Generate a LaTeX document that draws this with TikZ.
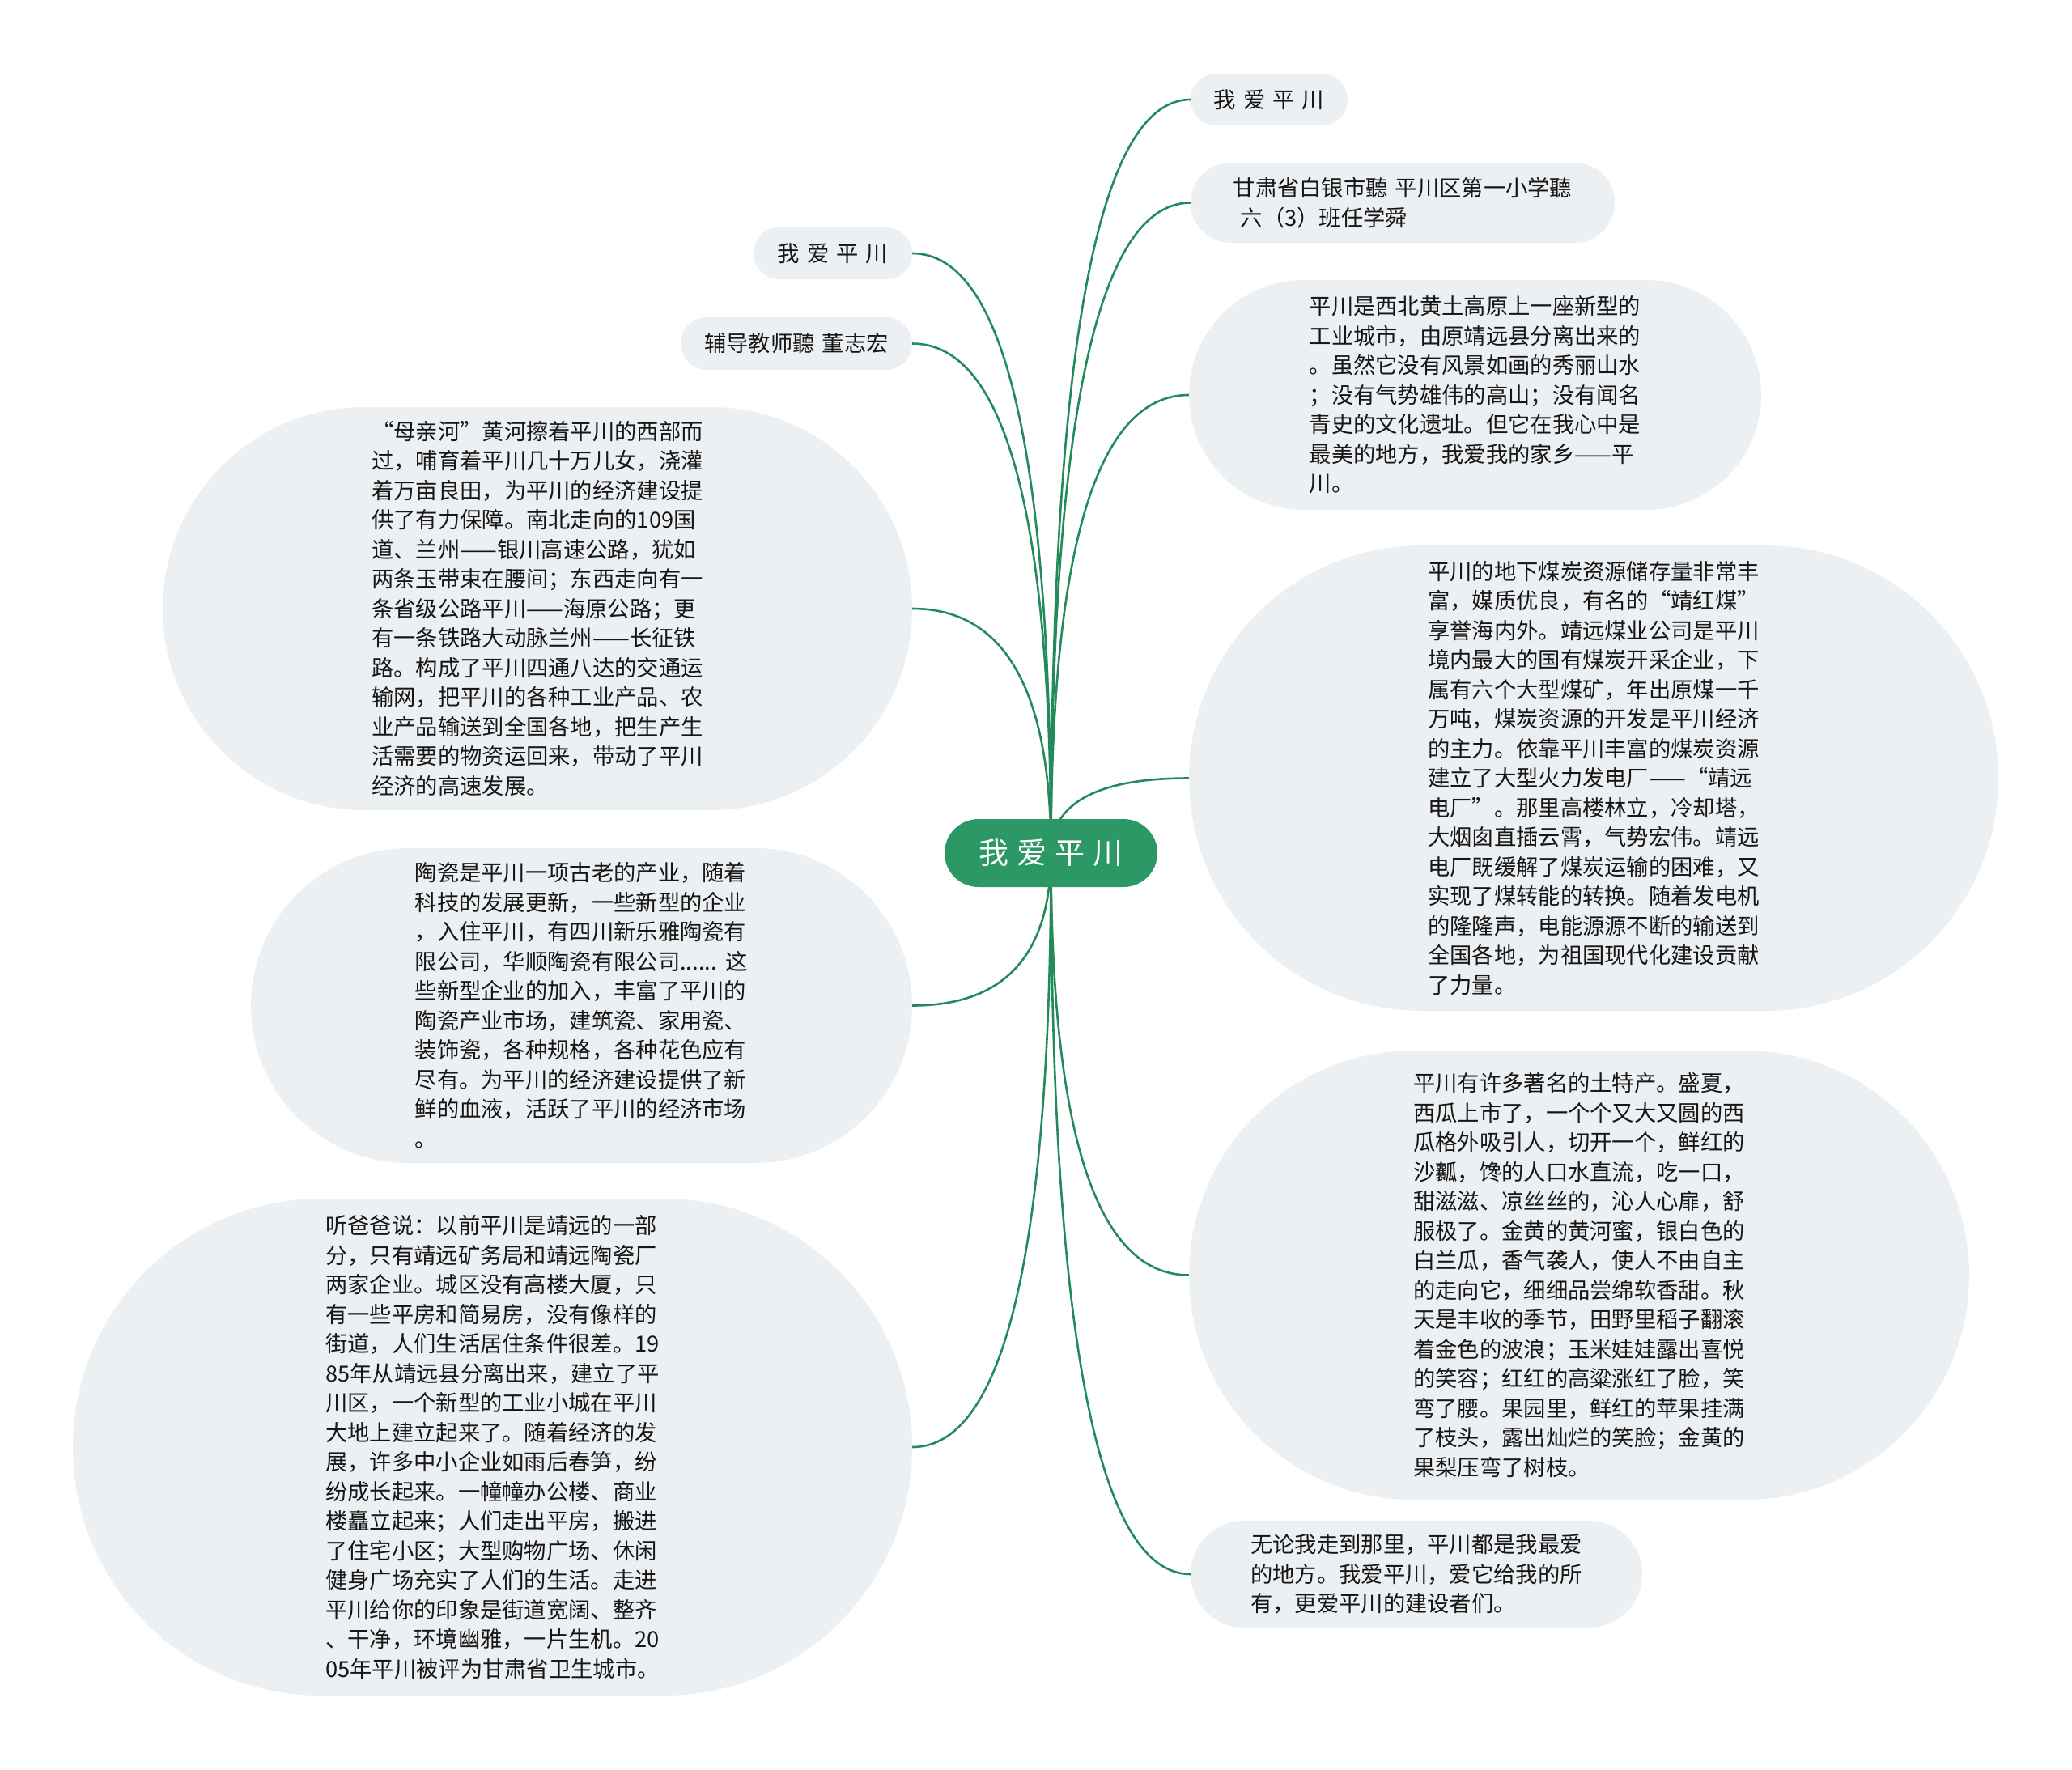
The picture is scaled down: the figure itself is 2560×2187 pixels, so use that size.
\documentclass[tikz,border=0pt]{standalone}
\usepackage{fontspec}
\setmainfont{Noto Sans CJK SC}
\usetikzlibrary{calc}
\definecolor{branch}{RGB}{35,138,90}
\definecolor{rootfill}{RGB}{44,152,101}
\definecolor{leaffill}{RGB}{237,240,243}
\definecolor{ink}{RGB}{22,22,22}
\tikzset{
  leaf/.style={fill=leaffill, text=ink, align=left, inner sep=0pt,
    font={\fontsize{27.3}{36.5}\selectfont\spaceskip=9pt\relax}},
  pill/.style 2 args={minimum width=#1pt, minimum height=#2pt, rounded corners=#2*0.5pt},
  wire/.style={draw=branch, line width=2.6pt},
}
\begin{document}
\begin{tikzpicture}[x=1pt,y=-1pt]
  \fill[white] (0,0) rectangle (2560,2187);
  \coordinate (hub) at (1298.5,1054);
  % right side
  \node[leaf, pill={194}{64}] (r1) at (1568,123) {我 爱 平 川};
  \node[leaf, pill={524}{99}] (r2) at (1733,250.5)
    {甘肃省白银市聽 平川区第一小学聽\\\ 六（3）班任学舜};
  \node[leaf, pill={707}{284}] (r3) at (1822.5,488)
    {平川是西北黄土高原上一座新型的\\工业城市，由原靖远县分离出来的\\。虽然它没有风景如画的秀丽山水\\；没有气势雄伟的高山；没有闻名\\青史的文化遗址。但它在我心中是\\最美的地方，我爱我的家乡——平\\川。};
  \node[leaf, pill={1000}{575}] (r4) at (1969,961.5)
    {平川的地下煤炭资源储存量非常丰\\富，媒质优良，有名的“靖红煤”\\享誉海内外。靖远煤业公司是平川\\境内最大的国有煤炭开采企业，下\\属有六个大型煤矿，年出原煤一千\\万吨，煤炭资源的开发是平川经济\\的主力。依靠平川丰富的煤炭资源\\建立了大型火力发电厂——“靖远\\电厂”。那里高楼林立，冷却塔，\\大烟囱直插云霄，气势宏伟。靖远\\电厂既缓解了煤炭运输的困难，又\\实现了煤转能的转换。随着发电机\\的隆隆声，电能源源不断的输送到\\全国各地，为祖国现代化建设贡献\\了力量。};
  \node[leaf, pill={964}{555}] (r5) at (1951,1575.5)
    {平川有许多著名的土特产。盛夏，\\西瓜上市了，一个个又大又圆的西\\瓜格外吸引人，切开一个，鲜红的\\沙瓤，馋的人口水直流，吃一口，\\甜滋滋、凉丝丝的，沁人心扉，舒\\服极了。金黄的黄河蜜，银白色的\\白兰瓜，香气袭人，使人不由自主\\的走向它，细细品尝绵软香甜。秋\\天是丰收的季节，田野里稻子翻滚\\着金色的波浪；玉米娃娃露出喜悦\\的笑容；红红的高粱涨红了脸，笑\\弯了腰。果园里，鲜红的苹果挂满\\了枝头，露出灿烂的笑脸；金黄的\\果梨压弯了树枝。};
  \node[leaf, pill={558}{132}] (r6) at (1750,1945)
    {无论我走到那里，平川都是我最爱\\的地方。我爱平川，爱它给我的所\\有，更爱平川的建设者们。};
  % left side
  \node[leaf, pill={196}{64}] (l1) at (1029,313) {我 爱 平 川};
  \node[leaf, pill={286}{65}] (l2) at (984,424.5) {辅导教师聽 董志宏};
  \node[leaf, pill={926}{498}] (l3) at (664,752)
    {“母亲河”黄河擦着平川的西部而\\过，哺育着平川几十万儿女，浇灌\\着万亩良田，为平川的经济建设提\\供了有力保障。南北走向的109国\\道、兰州——银川高速公路，犹如\\两条玉带束在腰间；东西走向有一\\条省级公路平川——海原公路；更\\有一条铁路大动脉兰州——长征铁\\路。构成了平川四通八达的交通运\\输网，把平川的各种工业产品、农\\业产品输送到全国各地，把生产生\\活需要的物资运回来，带动了平川\\经济的高速发展。};
  \node[leaf, pill={817}{389}] (l4) at (718.5,1242.5)
    {陶瓷是平川一项古老的产业，随着\\科技的发展更新，一些新型的企业\\，入住平川，有四川新乐雅陶瓷有\\限公司，华顺陶瓷有限公司...... 这\\些新型企业的加入，丰富了平川的\\陶瓷产业市场，建筑瓷、家用瓷、\\装饰瓷，各种规格，各种花色应有\\尽有。为平川的经济建设提供了新\\鲜的血液，活跃了平川的经济市场\\。};
  \node[leaf, pill={1037}{614}] (l5) at (608.5,1788)
    {听爸爸说：以前平川是靖远的一部\\分，只有靖远矿务局和靖远陶瓷厂\\两家企业。城区没有高楼大厦，只\\有一些平房和简易房，没有像样的\\街道，人们生活居住条件很差。19\\85年从靖远县分离出来，建立了平\\川区，一个新型的工业小城在平川\\大地上建立起来了。随着经济的发\\展，许多中小企业如雨后春笋，纷\\纷成长起来。一幢幢办公楼、商业\\楼矗立起来；人们走出平房，搬进\\了住宅小区；大型购物广场、休闲\\健身广场充实了人们的生活。走进\\平川给你的印象是街道宽阔、整齐\\、干净，环境幽雅，一片生机。20\\05年平川被评为甘肃省卫生城市。};
  % branches
  \foreach \n/\a in {r1/west, r2/west, r3/west, r4/west, r5/west, r6/west,
                     l1/east, l2/east, l3/east, l4/east, l5/east}
    \draw[wire] (hub) .. controls ($(hub)!2/3!(hub |- \n.\a)$)
      and ($(\n.\a)!2/3!(hub |- \n.\a)$) .. (\n.\a);
  \node[fill=rootfill, text=white, minimum width=263pt, minimum height=84pt,
    rounded corners=42pt, inner sep=0pt,
    font={\fontsize{37}{40}\selectfont\spaceskip=10pt\relax}] (root) at (hub) {我 爱 平 川};
\end{tikzpicture}
\end{document}
